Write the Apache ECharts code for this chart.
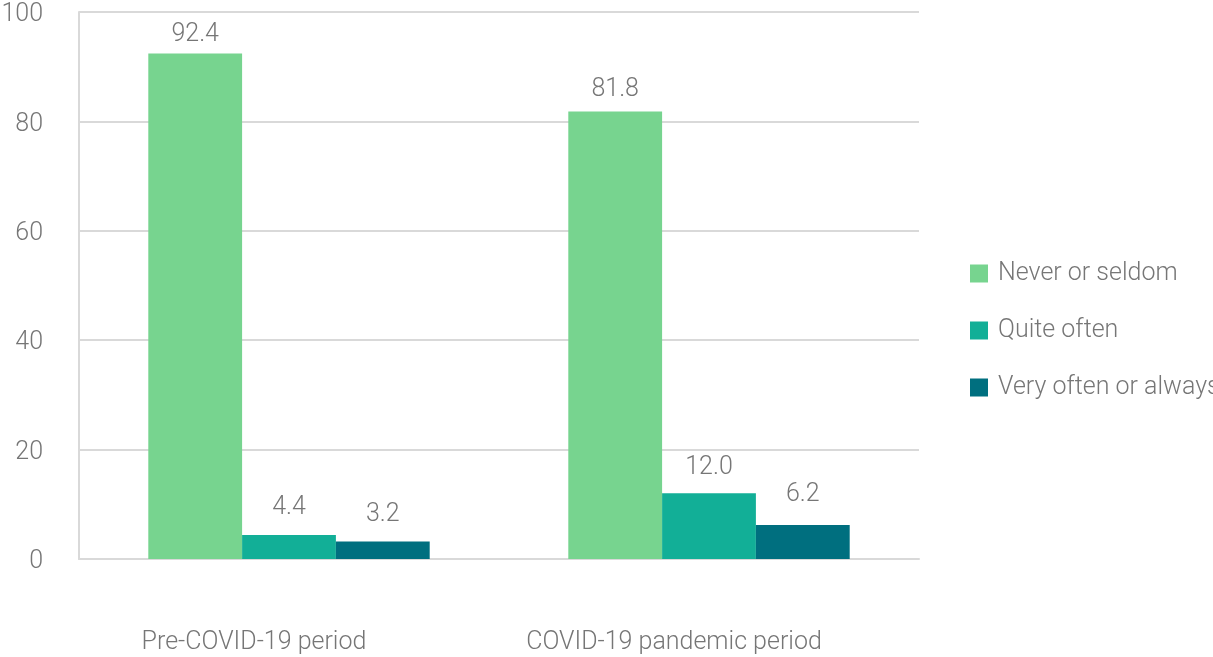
<!DOCTYPE html>
<html>
<head>
<meta charset="utf-8">
<script src="https://cdn.jsdelivr.net/npm/echarts@6/dist/echarts.min.js"></script>
<style>
  html, body { margin: 0; padding: 0; background: #fff; }
  #chart { width: 1213px; height: 657px; }
</style>
</head>
<body>
<div id="chart"></div>
<script>
// Periods compared
const categories = ['Pre-COVID-19 period', 'COVID-19 pandemic period'];
// Share of respondents (%) by frequency
const neverOrSeldom = [92.4, 81.8];
const quiteOften = [4.4, 12.0];
const veryOftenOrAlways = [3.2, 6.2];
const seriesNames = ['Never or seldom', 'Quite often', 'Very often or always'];
const yTicks = { min: 0, max: 100, interval: 20 };

// Gap (px) between each bar top and its value label
const labelGaps = [[6, 9], [15, 13], [14, 18]];

const textColor = '#767676';
const fontFamily = 'Roboto';
const fontSize = 25;
const colors = ['#77D48F', '#12AF97', '#006F7F'];

function barSeries(name, values, gaps) {
  return {
    name: name,
    type: 'bar',
    barGap: '0%',
    barCategoryGap: '33%',
    data: values.map((v, i) => ({
      value: v,
      label: {
        show: true,
        position: 'top',
        distance: gaps[i],
        color: textColor,
        fontFamily: fontFamily,
        fontWeight: 300,
        fontSize: fontSize,
        formatter: p => p.value.toFixed(1)
      }
    }))
  };
}

const chart = echarts.init(document.getElementById('chart'), null, { renderer: 'canvas' });
chart.setOption({
  animation: false,
  color: colors,
  textStyle: { fontFamily: fontFamily },
  grid: { left: 79, right: 294, top: 12, bottom: 98, containLabel: false, outerBoundsMode: 'none' },
  legend: {
    orient: 'vertical',
    left: 965,
    top: 256,
    itemWidth: 18,
    itemHeight: 18,
    itemGap: 32,
    itemStyle: { borderWidth: 0 },
    icon: 'rect',
    textStyle: {
      color: textColor,
      fontFamily: fontFamily,
      fontWeight: 300,
      fontSize: fontSize,
      lineHeight: 24,
      padding: [0, 0, 0, 5]
    },
    data: seriesNames
  },
  xAxis: {
    type: 'category',
    data: categories,
    axisLine: { show: true, lineStyle: { color: '#D9D9D9', width: 2 } },
    axisTick: { show: false },
    axisLabel: {
      color: textColor,
      fontFamily: fontFamily,
      fontWeight: 300,
      fontSize: fontSize,
      margin: 71,
      padding: [0, 70, 0, 0]
    }
  },
  yAxis: {
    type: 'value',
    min: yTicks.min,
    max: yTicks.max,
    interval: yTicks.interval,
    axisLine: { show: true, lineStyle: { color: '#D9D9D9', width: 2 } },
    axisTick: { show: false },
    splitLine: { lineStyle: { color: '#D9D9D9', width: 2 } },
    axisLabel: {
      color: textColor,
      fontFamily: fontFamily,
      fontWeight: 300,
      fontSize: fontSize,
      margin: 36,
      verticalAlign: 'top',
      lineHeight: 6
    }
  },
  series: [
    barSeries(seriesNames[0], neverOrSeldom, labelGaps[0]),
    barSeries(seriesNames[1], quiteOften, labelGaps[1]),
    barSeries(seriesNames[2], veryOftenOrAlways, labelGaps[2])
  ]
});
</script>
</body>
</html>
